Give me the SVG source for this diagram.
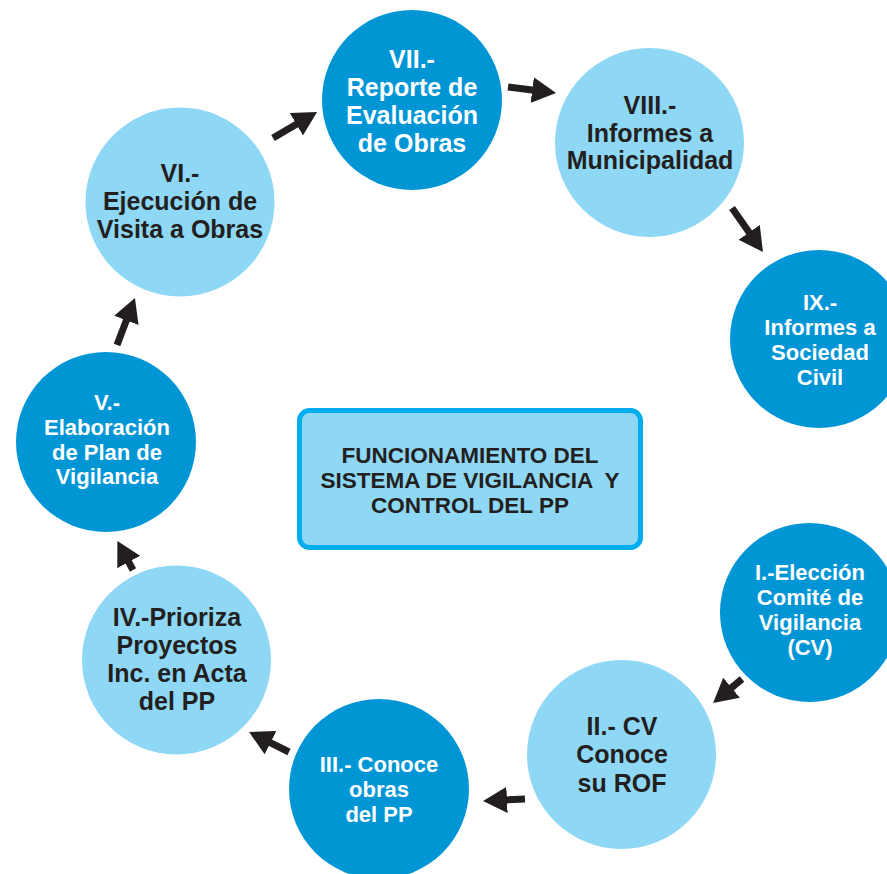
<svg xmlns="http://www.w3.org/2000/svg" width="887" height="874" viewBox="0 0 887 874">
<defs>
<style>
.dark{fill:#0096d6}
.light{fill:#8ed8f6}
.t{font-family:"Liberation Sans",Arial,Helvetica,sans-serif;font-weight:bold;text-anchor:middle}
.w{fill:#ffffff}
.k{fill:#231f20}
.conn line{stroke:#231f20;stroke-width:7;marker-end:url(#ah)}
</style>
<marker id="ah" viewBox="0 0 24 26" markerWidth="24" markerHeight="26" markerUnits="userSpaceOnUse" refX="2" refY="13" orient="auto">
<path d="M0,0 L24,13 L0,26 z" fill="#231f20"/>
</marker>
</defs>
<rect width="887" height="874" fill="#ffffff"/>

<g id="n7">
<circle class="dark" cx="412" cy="100" r="90"/>
<text class="t w" font-size="25" x="412"><tspan x="412" y="68">VII.-</tspan><tspan x="412" y="96">Reporte de</tspan><tspan x="412" y="124">Evaluación</tspan><tspan x="412" y="152">de Obras</tspan></text>
</g>
<g id="n8">
<circle class="light" cx="649.5" cy="142.5" r="94.5"/>
<text class="t k" font-size="25"><tspan x="650" y="114">VIII.-</tspan><tspan x="650" y="142">Informes a</tspan><tspan x="650" y="169">Municipalidad</tspan></text>
</g>
<g id="n9">
<circle class="dark" cx="819" cy="339" r="89"/>
<text class="t w" font-size="22"><tspan x="820" y="310">IX.-</tspan><tspan x="820" y="335">Informes a</tspan><tspan x="820" y="360">Sociedad</tspan><tspan x="820" y="385">Civil</tspan></text>
</g>
<g id="n1">
<circle class="dark" cx="809.5" cy="612.5" r="89.5"/>
<text class="t w" font-size="22"><tspan x="810" y="580">I.-Elección</tspan><tspan x="810" y="605">Comité de</tspan><tspan x="810" y="630">Vigilancia</tspan><tspan x="810" y="655">(CV)</tspan></text>
</g>
<g id="n2">
<circle class="light" cx="621.5" cy="754.5" r="94.5"/>
<text class="t k" font-size="25"><tspan x="622" y="735">II.- CV</tspan><tspan x="622" y="763">Conoce</tspan><tspan x="622" y="792">su ROF</tspan></text>
</g>
<g id="n3">
<circle class="dark" cx="379" cy="789" r="90"/>
<text class="t w" font-size="22"><tspan x="379" y="772">III.- Conoce</tspan><tspan x="379" y="797">obras</tspan><tspan x="379" y="822">del PP</tspan></text>
</g>
<g id="n4">
<circle class="light" cx="176.5" cy="660" r="94.5"/>
<text class="t k" font-size="25"><tspan x="177" y="626">IV.-Prioriza</tspan><tspan x="177" y="654">Proyectos</tspan><tspan x="177" y="682">Inc. en Acta</tspan><tspan x="177" y="710">del PP</tspan></text>
</g>
<g id="n5">
<circle class="dark" cx="106" cy="442" r="90"/>
<text class="t w" font-size="22"><tspan x="107" y="410">V.-</tspan><tspan x="107" y="435">Elaboración</tspan><tspan x="107" y="460">de Plan de</tspan><tspan x="107" y="484">Vigilancia</tspan></text>
</g>
<g id="n6">
<circle class="light" cx="180" cy="202" r="94.5"/>
<text class="t k" font-size="25"><tspan x="180" y="182">VI.-</tspan><tspan x="180" y="210">Ejecución de</tspan><tspan x="180" y="238">Visita a Obras</tspan></text>
</g>
<g id="center">
<rect x="299.5" y="410.5" width="341" height="137" rx="10" ry="10" fill="#8ed8f6" stroke="#00adef" stroke-width="5"/>
<text class="t k" font-size="22.5" style="white-space:pre"><tspan x="470" y="463">FUNCIONAMIENTO DEL</tspan><tspan x="470" y="488">SISTEMA DE VIGILANCIA  Y</tspan><tspan x="470" y="513">CONTROL DEL PP</tspan></text>
</g>

<g id="connectors" class="conn">
<line x1="273" y1="138" x2="298.1" y2="123.2"/>
<line x1="508" y1="87" x2="534.2" y2="90.3"/>
<line x1="732" y1="208" x2="750.3" y2="234"/>
<line x1="742" y1="679" x2="730" y2="689"/>
<line x1="525" y1="799" x2="505" y2="800"/>
<line x1="289" y1="752" x2="268.7" y2="741.8"/>
<line x1="133" y1="570" x2="127.8" y2="560.3"/>
<line x1="117" y1="345" x2="127.1" y2="318.5"/>
</g>
</svg>
